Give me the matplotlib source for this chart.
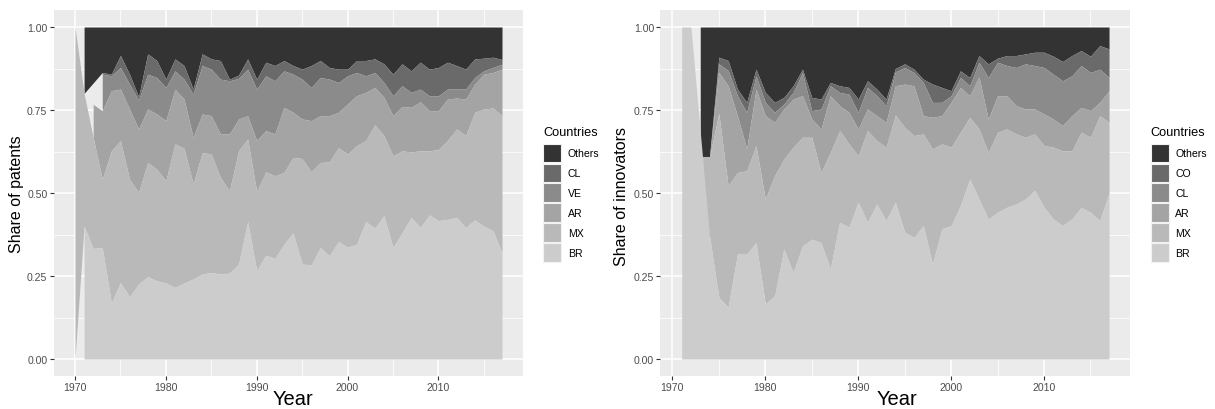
import matplotlib.pyplot as plt
import matplotlib.patches as mpatches
import numpy as np

plt.rcParams['font.family'] = ['Liberation Sans', 'DejaVu Sans']

# Data: yearly shares (None = country absent that year)
pat_years = list(range(1970, 2018))
pat_BR = [None, .40, .333, .336, .17, .23, .188, .226, .248, .236,
          .229, .216, .229, .241, .256, .261, .256, .259, .286, .414,
          .266, .313, .303, .346, .38, .286, .283, .336, .311, .354,
          .336, .346, .414, .394, .432, .336, .38, .427, .396, .434,
          .417, .42, .427, .396, .419, .40, .387, .32]
pat_MX = [1.0, .40, .334, .206, .457, .428, .354, .276, .344, .336,
          .308, .432, .406, .286, .366, .356, .291, .248, .341, .249,
          .238, .251, .249, .216, .227, .318, .281, .256, .283, .283,
          .281, .297, .244, .311, .241, .276, .247, .197, .231, .193,
          .214, .238, .266, .277, .324, .353, .369, .413]
pat_AR = [None, None, .10, .206, .181, .155, .211, .191, .161, .166,
          .181, .165, .148, .141, .116, .116, .131, .171, .096, .070,
          .154, .124, .126, .196, .136, .119, .154, .141, .139, .106,
          .151, .150, .145, .113, .115, .121, .134, .134, .148, .121,
          .117, .125, .093, .110, .085, .105, .107, .140]
pat_VE = [None, None, None, .110, .045, .065, .075, .087, .105, .110,
          .100, .055, .060, .130, .146, .140, .165, .160, .122, .140,
          .155, .165, .160, .110, .115, .120, .100, .115, .110, .090,
          .085, .070, .050, .045, .045, .060, .062, .045, .038, .045,
          .045, .030, .027, .030, .020, .010, .015, .015]
pat_CL = [None, None, None, .005, .005, .036, .030, .010, .061, .051,
          .025, .036, .041, .015, .035, .031, .056, .005, .010, .031,
          .030, .041, .046, .031, .026, .030, .066, .051, .035, .040,
          .020, .036, .046, .041, .056, .065, .066, .065, .081, .080,
          .085, .081, .071, .060, .056, .038, .031, .014]
pat_OT = [None, .20, None, .137, .142, .086, .142, .21, .081, .101,
          .157, .096, .116, .187, .081, .096, .101, .157, .145, .096,
          .157, .106, .116, .101, .116, .127, .116, .101, .122, .127,
          .127, .101, .101, .096, .111, .142, .111, .132, .106, .127,
          .122, .106, .116, .127, .096, .094, .091, .098]

inv_years = list(range(1971, 2018))
inv_BR = [1.0, 1.0, None, .37, .186, .156, .316, .316, .351, .166,
          .19, .331, .261, .341, .361, .351, .271, .412, .397, .472,
          .412, .467, .417, .472, .382, .366, .402, .286, .392, .402,
          .462, .542, .482, .422, .442, .457, .467, .482, .508, .457,
          .422, .402, .422, .457, .442, .417, .50]
inv_MX = [None, None, .61, .24, .554, .366, .246, .251, .292, .316,
          .362, .271, .377, .327, .307, .211, .351, .276, .251, .14,
          .276, .191, .221, .263, .316, .307, .276, .347, .256, .236,
          .221, .186, .211, .20, .241, .236, .211, .186, .17, .186,
          .216, .225, .205, .226, .226, .316, .213]
inv_AR = [None, None, None, .0, .123, .301, .171, .066, .17, .251,
          .161, .151, .145, .125, .055, .131, .171, .075, .095, .081,
          .065, .075, .075, .088, .13, .15, .055, .095, .085, .135,
          .135, .065, .157, .101, .11, .10, .085, .085, .075, .095,
          .085, .076, .106, .075, .08, .04, .095]
inv_CL = [None, None, None, .0, .026, .046, .06, .11, .04, .04,
          .03, .015, .02, .07, .025, .06, .03, .04, .055, .05,
          .065, .06, .05, .042, .05, .04, .10, .045, .04, .02,
          .03, .03, .044, .125, .101, .091, .115, .136, .131, .14,
          .135, .135, .12, .126, .115, .10, .04]
inv_CO = [None, None, None, .0, .02, .03, .02, .03, .02, .03,
          .03, .02, .02, .01, .04, .03, .01, .02, .02, .04,
          .02, .02, .02, .01, .011, .01, .01, .055, .045, .015,
          .02, .025, .02, .041, .012, .03, .036, .03, .04, .046,
          .054, .058, .061, .045, .049, .071, .086]
inv_OT = [None, None, .39, .39, .091, .101, .187, .227, .127, .197,
          .227, .212, .177, .127, .212, .217, .167, .177, .182, .217,
          .162, .187, .217, .125, .111, .127, .157, .172, .182, .192,
          .132, .152, .086, .111, .094, .086, .086, .081, .076, .076,
          .088, .104, .086, .071, .088, .056, .066]

# bottom -> top
pat_names = ['BR', 'MX', 'AR', 'VE', 'CL', 'Others']
inv_names = ['BR', 'MX', 'AR', 'CL', 'CO', 'Others']
greys = ['#CCCCCC', '#B9B9B9', '#A4A4A4', '#8B8B8B', '#6A6A6A', '#333333']

W, H = 1215, 410
fig = plt.figure(figsize=(W / 100, H / 100), dpi=100)
fig.patch.set_facecolor('white')


def draw_stack(ax, years, series):
    x = np.array(years, dtype=float)
    base = np.zeros(len(x))
    layers = []
    for s in series:
        v = np.array([np.nan if a is None else a for a in s], dtype=float)
        ok = ~np.isnan(v)
        lo = base.copy()
        hi = base + np.where(ok, v, 0.0)
        layers.append((ok, lo, hi))
        base = hi
    # like ggplot: top group (Others) drawn first, BR last
    for (ok, lo, hi), c in reversed(list(zip(layers, greys))):
        ax.fill_between(x[ok], lo[ok], hi[ok], color=c, lw=0, zorder=2)


def style(ax, x0, x1):
    ax.set_facecolor('#EBEBEB')
    for s in ax.spines.values():
        s.set_visible(False)
    pad = (x1 - x0) * 0.05
    ax.set_xlim(x0 - pad, x1 + pad)
    ax.set_ylim(-0.05, 1.05)
    ax.set_xticks([1970, 1980, 1990, 2000, 2010])
    ax.set_xticks([1975, 1985, 1995, 2005, 2015], minor=True)
    ax.set_yticks([0, .25, .5, .75, 1])
    ax.set_yticklabels(['0.00', '0.25', '0.50', '0.75', '1.00'])
    ax.set_yticks([.125, .375, .625, .875], minor=True)
    ax.set_axisbelow(True)
    ax.grid(which='major', color='white', lw=1.1)
    ax.grid(which='minor', color='white', lw=0.55)
    ax.tick_params(which='major', length=3, width=0.8, color='#333333',
                   labelsize=7.6, labelcolor='#4D4D4D', pad=1.5)
    ax.tick_params(which='minor', length=0)


def legend(ax, names, x, y):
    handles = [mpatches.Patch(facecolor=c, edgecolor='#F2F2F2', lw=0.8, label=n)
               for n, c in zip(names, greys)][::-1]
    leg = ax.legend(handles=handles, title='Countries', loc='upper left',
                    bbox_to_anchor=(x / W, 1 - y / H), bbox_transform=fig.transFigure,
                    frameon=False, fontsize=7.6, title_fontsize=9.2, alignment='left',
                    handlelength=1.75, handleheight=2.3, handletextpad=0.6,
                    labelspacing=0.15, borderpad=0, borderaxespad=0)
    leg._legend_box.sep = 4


# Left: patents
ax1 = fig.add_axes([53.65 / W, 1 - 376.6 / H, 469.7 / W, 365.2 / H])
style(ax1, 1970, 2017)
draw_stack(ax1, pat_years, [pat_BR, pat_MX, pat_AR, pat_VE, pat_CL, pat_OT])
legend(ax1, pat_names, 543, 127)

# Right: innovators
ax2 = fig.add_axes([660.3 / W, 1 - 376.6 / H, 470.1 / W, 365.2 / H])
style(ax2, 1971, 2017)
draw_stack(ax2, inv_years, [inv_BR, inv_MX, inv_AR, inv_CL, inv_CO, inv_OT])
legend(ax2, inv_names, 1150.5, 127)

# Axis titles
fig.text(293 / W, 1 - 405 / H, 'Year', ha='center', va='baseline', fontsize=14.5)
fig.text(897 / W, 1 - 405 / H, 'Year', ha='center', va='baseline', fontsize=14.5)
fig.text(16.7 / W, 1 - 194 / H, 'Share of patents', rotation=90,
         ha='center', va='center', fontsize=11.5)
fig.text(622 / W, 1 - 197 / H, 'Share of innovators', rotation=90,
         ha='center', va='center', fontsize=11.5)

fig.savefig('out.png', dpi=100, facecolor='white')
